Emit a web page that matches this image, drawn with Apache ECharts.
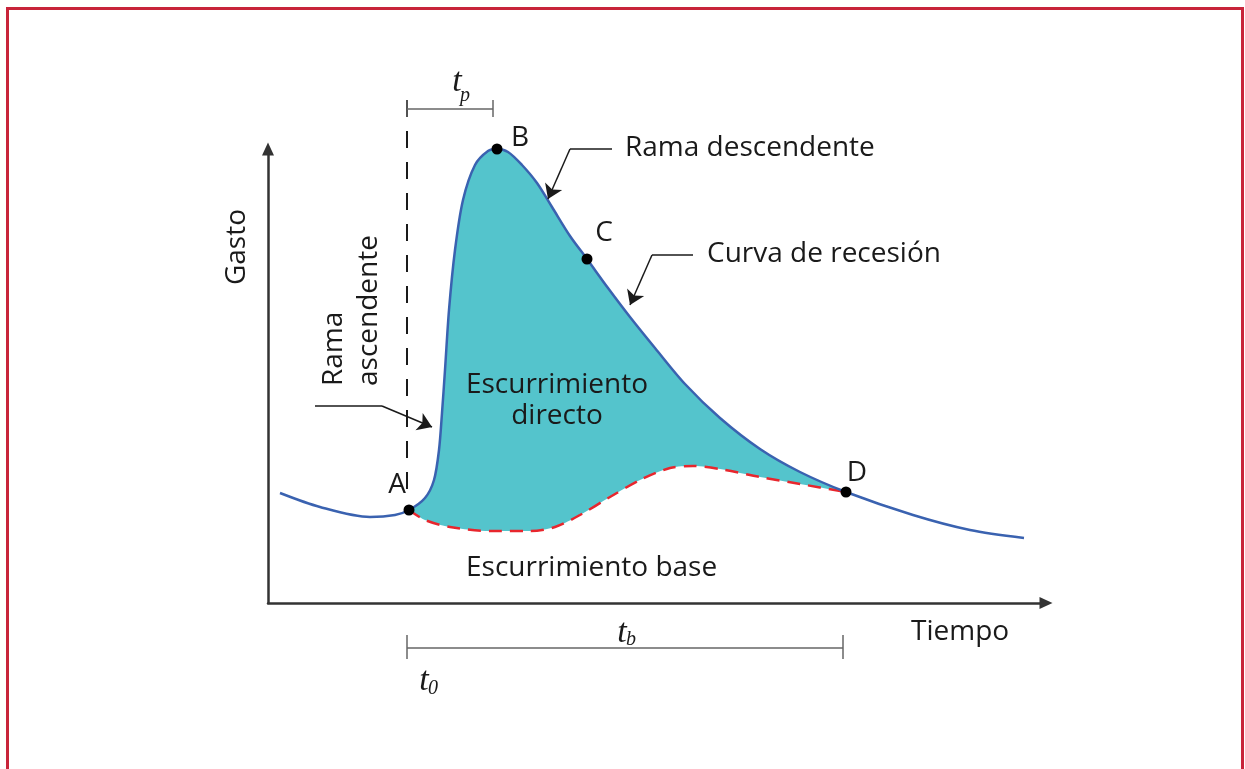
<!DOCTYPE html>
<html lang="es">
<head>
    <meta charset="UTF-8">
    <title>Hidrograma</title>
    <script src="https://cdn.jsdelivr.net/npm/echarts@6/dist/echarts.min.js"></script>
    <style>
        html, body { margin: 0; padding: 0; background: #fff; }
        #main { width: 1245px; height: 769px; }
    </style>
</head>
<body>
    <div id="main"></div>
    <script type="text/javascript">
        // hidrograma total (tiempo, gasto) - unidades esquemáticas
        var tiempo = [12, 52, 102, 127, 141, 157, 166, 171, 174, 177, 181, 187, 195, 207, 220, 229, 240, 254, 269, 284, 302, 319, 340, 362, 387, 417, 452, 492, 532, 578, 645, 702, 756];
        var gasto = [110, 96, 86, 88, 93, 105, 123, 153, 190, 233, 293, 353, 403, 438, 452, 454, 451, 438, 420, 396, 367, 344, 315, 286, 255, 219, 185, 154, 131, 111, 88, 73, 65];
        // escurrimiento base (linea discontinua roja)
        var tiempoBase = [141, 157, 182, 222, 262, 287, 312, 342, 372, 402, 425, 452, 492, 532, 578];
        var gastoBase = [93, 83, 76, 72, 72, 76, 88, 106, 123, 135, 137, 134, 126, 119, 111];
        // puntos notables
        var puntos = ['A', 'B', 'C', 'D'];
        var idxPuntos = [4, 15, 21, 29];

        var t0 = 139, tp = 225, tb = 575;

        function pares(xs, ys) {
            var out = [];
            for (var i = 0; i < xs.length; i++) out.push([xs[i], ys[i]]);
            return out;
        }
        var curva = pares(tiempo, gasto);
        var base = pares(tiempoBase, gastoBase);
        var directo = curva.slice(idxPuntos[0], idxPuntos[3] + 1);

        var font = '"Open Sans", "Noto Sans", sans-serif';
        var serif = '"Liberation Serif", "DejaVu Serif", serif';
        var suave = 0.3;

        function texto(x, y, txt, opts) {
            opts = opts || {};
            return {
                type: 'text', x: x, y: y, z: 100,
                rotation: opts.rot || 0,
                style: {
                    text: txt,
                    font: (opts.italic ? 'italic ' : '') + (opts.size || 28) + 'px ' + (opts.family || font),
                    fill: '#1a1a1a',
                    align: opts.align || 'left',
                    verticalAlign: 'middle',
                    lineHeight: opts.lh || 32
                }
            };
        }

        var ejeLinea = {
            show: true,
            onZero: false,
            symbol: ['none', 'triangle'],
            symbolSize: [12, 13],
            lineStyle: { color: '#333', width: 2.5 }
        };

        var option = {
            animation: false,
            backgroundColor: '#fff',
            grid: { left: 268, top: 149, right: 199, bottom: 166 },
            xAxis: {
                type: 'value', min: 0, max: 778, z: 10,
                axisLine: ejeLinea,
                axisTick: { show: false }, axisLabel: { show: false }, splitLine: { show: false }
            },
            yAxis: {
                type: 'value', min: 0, max: 454, z: 10,
                axisLine: ejeLinea,
                axisTick: { show: false }, axisLabel: { show: false }, splitLine: { show: false }
            },
            graphic: [
                { type: 'rect', z: 100, shape: { x: 7.5, y: 8.5, width: 1235, height: 800 },
                  style: { fill: null, stroke: '#C8243A', lineWidth: 3 } },
                texto(237, 247, 'Gasto', { rot: Math.PI / 2, align: 'center' }),
                texto(352, 386, 'Rama\nascendente', { rot: Math.PI / 2, lh: 35 }),
                texto(557, 401, 'Escurrimiento\ndirecto', { align: 'center', lh: 31 }),
                texto(466, 568, 'Escurrimiento base'),
                texto(911, 632, 'Tiempo'),
                texto(625, 148, 'Rama descendente'),
                texto(707, 254, 'Curva de recesión'),
                texto(457, 82, 't', { family: serif, italic: true, size: 34, align: 'center' }),
                texto(465, 96, 'p', { family: serif, italic: true, size: 20, align: 'center' }),
                texto(622, 633, 't', { family: serif, italic: true, size: 34, align: 'center' }),
                texto(631, 640, 'b', { family: serif, italic: true, size: 20, align: 'center' }),
                texto(424, 681, 't', { family: serif, italic: true, size: 34, align: 'center' }),
                texto(433, 689, '0', { family: serif, italic: true, size: 20, align: 'center' })
            ],
            series: [
                {
                    name: 'Escurrimiento directo',
                    type: 'line',
                    data: directo,
                    smooth: suave,
                    symbol: 'none', clip: false,
                    lineStyle: { width: 0 },
                    areaStyle: { color: '#54C4CC', opacity: 1 }
                },
                {
                    name: 'Escurrimiento base',
                    type: 'line',
                    data: base,
                    smooth: suave,
                    symbol: 'none', clip: false,
                    lineStyle: { color: '#E8262D', width: 2.5, type: [13, 8] },
                    areaStyle: { color: '#fff', opacity: 1 }
                },
                {
                    name: 'Hidrograma',
                    type: 'line',
                    data: curva,
                    smooth: suave,
                    symbol: 'none', clip: false,
                    lineStyle: { color: '#3A62B0', width: 2.5 }
                },
                {
                    type: 'lines',
                    coordinateSystem: 'cartesian2d',
                    clip: false, z: 5,
                    symbol: 'none',
                    lineStyle: { color: '#1a1a1a', width: 1.5, opacity: 1 },
                    data: [
                        { coords: [[47, 197], [114, 197]] },
                        { coords: [[344, 454], [302, 454]] },
                        { coords: [[425, 348], [384, 348]] },
                        { coords: [[t0, 503], [t0, 103]], lineStyle: { type: [17, 14], width: 2 } },
                        { coords: [[t0, 494], [tp, 494]], lineStyle: { color: '#666' } },
                        { coords: [[t0, 503], [t0, 486]], lineStyle: { color: '#666' } },
                        { coords: [[tp, 503], [tp, 486]], lineStyle: { color: '#666' } },
                        { coords: [[t0, -45], [tb, -45]], lineStyle: { color: '#666' } },
                        { coords: [[t0, -32], [t0, -56]], lineStyle: { color: '#666' } },
                        { coords: [[tb, -32], [tb, -56]], lineStyle: { color: '#666' } }
                    ]
                },
                {
                    type: 'lines',
                    coordinateSystem: 'cartesian2d',
                    clip: false, z: 5,
                    symbol: ['none', 'arrow'],
                    symbolSize: 14,
                    lineStyle: { color: '#1a1a1a', width: 1.5, opacity: 1 },
                    data: [
                        { coords: [[114, 197], [164, 176]] },
                        { coords: [[302, 454], [280, 404]] },
                        { coords: [[384, 348], [362, 298]] }
                    ]
                },
                {
                    type: 'scatter',
                    z: 6, clip: false,
                    symbolSize: 11,
                    itemStyle: { color: '#000', opacity: 1 },
                    data: puntos.map(function (p, i) {
                        var off = [[-12, -25], [23, -11], [17, -26], [11, -19]][i];
                        return {
                            name: p,
                            value: curva[idxPuntos[i]],
                            label: {
                                show: true, position: 'inside', offset: off,
                                formatter: p, color: '#1a1a1a',
                                textBorderWidth: 0,
                                fontSize: 28, fontFamily: font
                            }
                        };
                    })
                }
            ]
        };

        var myChart = echarts.init(document.getElementById('main'));
        myChart.setOption(option);
    </script>
</body>
</html>
